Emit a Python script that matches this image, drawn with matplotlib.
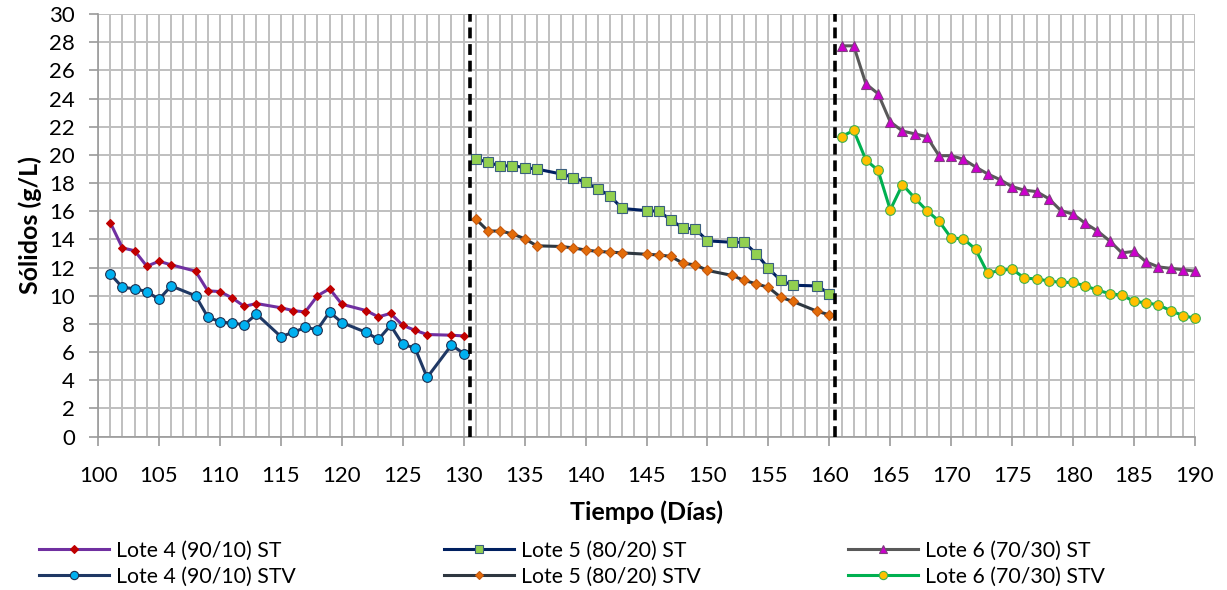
import matplotlib
matplotlib.use("Agg")
import matplotlib.pyplot as plt
from matplotlib.ticker import MultipleLocator

plt.rcParams['font.family'] = ['Lato', 'DejaVu Sans']

# Lote 4 (90/10)
dias_l4 = [101, 102, 103, 104, 105, 106, 108, 109, 110, 111, 112, 113, 115,
           116, 117, 118, 119, 120, 122, 123, 124, 125, 126, 127, 129, 130]
st_l4 = [15.2, 13.4, 13.2, 12.1, 12.45, 12.2, 11.75, 10.35, 10.3, 9.85, 9.25,
         9.45, 9.15, 8.95, 8.85, 10.0, 10.5, 9.4, 8.95, 8.5, 8.75, 7.9, 7.55,
         7.25, 7.2, 7.15]
stv_l4 = [11.55, 10.6, 10.5, 10.3, 9.75, 10.7, 10.0, 8.5, 8.15, 8.05, 7.95,
          8.7, 7.1, 7.4, 7.75, 7.6, 8.85, 8.1, 7.4, 6.9, 7.9, 6.55, 6.3, 4.2,
          6.5, 5.9]

# Lote 5 (80/20)
dias_l5 = [131, 132, 133, 134, 135, 136, 138, 139, 140, 141, 142, 143, 145,
           146, 147, 148, 149, 150, 152, 153, 154, 155, 156, 157, 159, 160]
st_l5 = [19.7, 19.5, 19.2, 19.25, 19.1, 19.0, 18.65, 18.4, 18.05, 17.6, 17.1,
         16.2, 16.05, 16.0, 15.4, 14.8, 14.75, 13.9, 13.8, 13.8, 13.0, 11.95,
         11.1, 10.75, 10.7, 10.15]
stv_l5 = [15.45, 14.6, 14.6, 14.4, 14.05, 13.55, 13.5, 13.4, 13.25, 13.15,
          13.1, 13.05, 12.95, 12.9, 12.8, 12.3, 12.2, 11.8, 11.45, 11.1, 10.85,
          10.6, 9.9, 9.6, 8.9, 8.65]

# Lote 6 (70/30)
dias_l6 = list(range(161, 191))
st_l6 = [27.75, 27.75, 25.05, 24.35, 22.35, 21.7, 21.5, 21.3, 19.95, 19.95,
         19.7, 19.15, 18.65, 18.25, 17.75, 17.5, 17.4, 16.9, 16.05, 15.8,
         15.15, 14.6, 13.9, 13.05, 13.15, 12.4, 12.05, 11.95, 11.85, 11.75]
stv_l6 = [21.3, 21.75, 19.65, 18.9, 16.1, 17.9, 16.95, 16.05, 15.3, 14.1,
          14.05, 13.3, 11.6, 11.8, 11.9, 11.25, 11.2, 11.05, 10.95, 10.95,
          10.7, 10.4, 10.15, 10.05, 9.6, 9.5, 9.35, 8.95, 8.6, 8.4]

cambios_lote = [130.5, 160.5]

fig = plt.figure(figsize=(12.27, 5.9), dpi=100)
ax = fig.add_axes([0.0799, 0.26, 0.894, 0.716])

series = [
    (dias_l4, st_l4, 'Lote 4 (90/10) ST', '#7030A0', 'D', '#C00000', '#C00000', 4.5),
    (dias_l4, stv_l4, 'Lote 4 (90/10) STV', '#1F3864', 'o', '#00B0F0', '#1F2F4F', 7),
    (dias_l5, st_l5, 'Lote 5 (80/20) ST', '#002060', 's', '#92D050', '#3A5F7F', 6.5),
    (dias_l5, stv_l5, 'Lote 5 (80/20) STV', '#2E3740', 'D', '#E36C09', '#C65A10', 5),
    (dias_l6, st_l6, 'Lote 6 (70/30) ST', '#595959', '^', '#CC00CC', '#7F3F7F', 7),
    (dias_l6, stv_l6, 'Lote 6 (70/30) STV', '#00B050', 'o', '#FFC000', '#3FB050', 7),
]
for x, y, nombre, color, mk, relleno, borde, ms in series:
    ax.plot(x, y, color=color, lw=2.2, marker=mk, markersize=ms,
            markerfacecolor=relleno, markeredgecolor=borde, markeredgewidth=0.8,
            label=nombre, clip_on=False, zorder=3)

for xv in cambios_lote:
    ax.axvline(xv, color='black', lw=2.6, linestyle=(0, (3, 1.6)), zorder=4)

ax.set_xlim(100, 190)
ax.set_ylim(0, 30)
ax.xaxis.set_major_locator(MultipleLocator(5))
ax.xaxis.set_minor_locator(MultipleLocator(1))
ax.yaxis.set_major_locator(MultipleLocator(2))
ax.grid(which='both', axis='x', color='#BFBFBF', lw=1.4, zorder=0)
ax.grid(which='major', axis='y', color='#BFBFBF', lw=1.4, zorder=0)
ax.set_axisbelow(True)

for s in ['top', 'right']:
    ax.spines[s].set_visible(False)
for s in ['left', 'bottom']:
    ax.spines[s].set_color('#9A9A9A')
    ax.spines[s].set_linewidth(1.2)
ax.tick_params(axis='both', which='major', color='#9A9A9A', width=1.2,
               length=6.5, labelsize=16)
ax.tick_params(axis='x', pad=15)
ax.tick_params(axis='y', pad=10)
ax.tick_params(axis='x', which='minor', length=0)

ax.set_xlabel('Tiempo (Días)', fontsize=18, fontweight='bold', labelpad=10)
ax.set_ylabel('Sólidos (g/L)', fontsize=18, fontweight='bold', labelpad=5)

fig.legend(loc='upper left', bbox_to_anchor=(0.0318, 0.084), ncol=3,
           frameon=False, fontsize=15.3, handlelength=3.3, handletextpad=0.33,
           columnspacing=6.95, labelspacing=0.3, borderpad=0, borderaxespad=0,
           markerscale=0.85)

fig.savefig('out.png', dpi=100)
